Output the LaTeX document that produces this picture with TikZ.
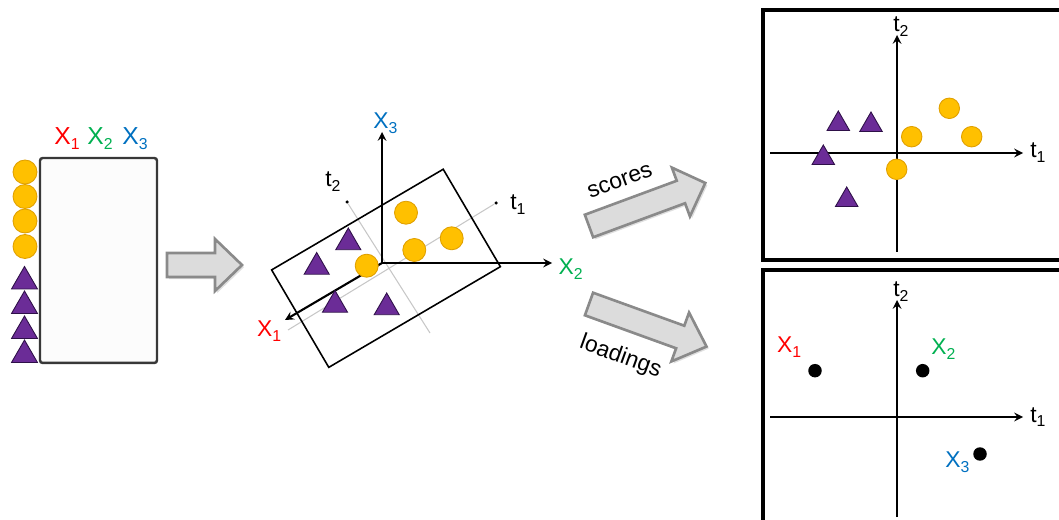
\documentclass[tikz,border=0pt]{standalone}
\usepackage{fontspec}
\setmainfont{Liberation Sans}
\usetikzlibrary{arrows.meta, calc, positioning, shapes.geometric, shadows}

\definecolor{varone}{HTML}{FF0000}
\definecolor{vartwo}{HTML}{00B050}
\definecolor{varthree}{HTML}{0070C0}
\definecolor{ballfill}{HTML}{FFC000}
\definecolor{balledge}{HTML}{E0A000}
\definecolor{trifill}{HTML}{6B2C97}
\definecolor{triedge}{HTML}{2E1048}
\definecolor{arrowfill}{HTML}{DCDCDC}
\definecolor{arrowedge}{HTML}{8A8A8A}

\newcommand{\lowsub}[1]{\raisebox{-2.7pt}{\fontsize{9}{10}\selectfont #1}}

\tikzset{
  ball/.style={circle, fill=ballfill, draw=balledge, line width=0.5pt, inner sep=0pt, minimum size=0.46cm},
  tri/.style={regular polygon, regular polygon sides=3, fill=trifill, draw=triedge, line width=0.5pt, inner sep=0pt, minimum size=0.58cm},
  loaddot/.style={circle, fill=black, inner sep=0pt, minimum size=0.27cm},
  enddot/.style={circle, fill=black, inner sep=0pt, minimum size=0.07cm},
  axis/.style={->, >=stealth, very thick},
  guide/.style={draw=black!22, line width=0.6pt},
  fatarrow/.style={fill=arrowfill, draw=arrowedge, line width=1.5pt, drop shadow={shadow xshift=1.2pt, shadow yshift=-1.2pt, opacity=0.25}},
  panel/.style={line width=2.2pt},
  lab/.style={inner sep=0pt, anchor=base west},
}

\begin{document}
\begin{tikzpicture}[x=0.02cm, y=-0.02cm, font=\fontsize{13}{15}\selectfont]
\useasboundingbox (0,0) rectangle (1059,520);

% data table
\node[draw=black!78, line width=1.4pt, rounded corners=1.5pt, fill=black!1, minimum width=2.34cm, minimum height=4.1cm] (table) at (98.5,260.5) {};
\node[lab, text=varone, font=\fontsize{14}{16}\selectfont] (tx1) at (54,145) {X\lowsub{1}};
\node[lab, text=vartwo, font=\fontsize{14}{16}\selectfont] (tx2) at (87,145) {X\lowsub{2}};
\node[lab, text=varthree, font=\fontsize{14}{16}\selectfont] (tx3) at (122,145) {X\lowsub{3}};

\node[ball, minimum size=0.48cm] (lb1) at (25,172) {};
\node[ball, minimum size=0.48cm] (lb2) at (25,196.5) {};
\node[ball, minimum size=0.48cm] (lb3) at (25,221) {};
\node[ball, minimum size=0.48cm] (lb4) at (25,246.5) {};
\node[tri, minimum size=0.6cm] (lt1) at (24.5,281.5) {};
\node[tri, minimum size=0.6cm] (lt2) at (24.5,306) {};
\node[tri, minimum size=0.6cm] (lt3) at (24.5,331) {};
\node[tri, minimum size=0.6cm] (lt4) at (24.5,355) {};

\draw[fatarrow] (167,253) -- (215,253) -- (215,239) -- (242,265) -- (215,291) -- (215,277) -- (167,277) -- cycle;

% 3d space
\coordinate (orig) at (382,263);
\coordinate (x1end) at (285,320);
\coordinate (x2end) at (552,263);
\coordinate (x3end) at (382,132);
\coordinate (t1start) at (288,330);
\coordinate (t2start) at (430,333);
\node[enddot] (t1end) at (496,203) {};
\node[enddot] (t2end) at (347,202) {};

\draw[guide] (t1start) -- (t1end);
\draw[guide] (t2end) -- (t2start);
\node[draw, line width=0.9pt, rotate=30.4, minimum width=3.98cm, minimum height=2.26cm] (plane) at (386,268.3) {};

\draw[axis] (orig) -- (x1end);
\draw[axis] (orig) -- (x2end);
\draw[axis] (orig) -- (x3end);

\node[lab, text=varone] (mx1) at (256.7,336.7) {X\lowsub{1}};
\node[lab, text=vartwo] (mx2) at (558.3,275) {X\lowsub{2}};
\node[lab, text=varthree] (mx3) at (373,129) {X\lowsub{3}};
\node[lab] (mt1) at (510,210) {t\lowsub{1}};
\node[lab] (mt2) at (325,186.7) {t\lowsub{2}};

\node[ball] (mb1) at (406,212.7) {};
\node[ball] (mb2) at (414.3,250) {};
\node[ball] (mb3) at (451.7,238.3) {};
\node[ball] (mb4) at (366.7,265.7) {};
\node[tri] (mt1tri) at (348.3,242.5) {};
\node[tri] (mt2tri) at (316.7,267) {};
\node[tri] (mt3tri) at (335,305) {};
\node[tri] (mt4tri) at (386.7,307.5) {};

% scores / loadings arrows
\begin{scope}[shift={(589,226)}, rotate=20.3]
  \draw[fatarrow] (0,-12) -- (98,-12) -- (98,-26) -- (124,0) -- (98,26) -- (98,12) -- (0,12) -- cycle;
\end{scope}
\begin{scope}[shift={(589,304)}, rotate=-19.9]
  \draw[fatarrow] (0,-12) -- (97,-12) -- (97,-26) -- (125,0) -- (97,26) -- (97,12) -- (0,12) -- cycle;
\end{scope}
\node[rotate=20] (scores) at (620,181) {scores};
\node[rotate=-20] (loadings) at (620.5,357) {loadings};

% score plot
\draw[panel] (1059,10) -- (763,10) -- (763,260) -- (1059,260);
\coordinate (st1start) at (770,153);
\coordinate (st1end) at (1023,153);
\coordinate (st2start) at (897,252);
\coordinate (st2end) at (897,35);
\draw[axis] (st1start) -- (st1end);
\draw[axis] (st2start) -- (st2end);
\node[lab] (st1) at (1030,158) {t\lowsub{1}};
\node[lab] (st2) at (893,32) {t\lowsub{2}};

\node[ball, minimum size=0.41cm] (sb1) at (949.3,108.3) {};
\node[ball, minimum size=0.41cm] (sb2) at (911.7,136.7) {};
\node[ball, minimum size=0.41cm] (sb3) at (971.7,136.7) {};
\node[ball, minimum size=0.41cm] (sb4) at (896.7,169.3) {};
\node[tri, minimum size=0.52cm] (stri1) at (838.3,124) {};
\node[tri, minimum size=0.52cm] (stri2) at (871,125) {};
\node[tri, minimum size=0.52cm] (stri3) at (823.3,158) {};
\node[tri, minimum size=0.52cm] (stri4) at (846.7,200) {};

% loading plot
\draw[panel] (1059,270) -- (763,270) -- (763,520);
\coordinate (lt1start) at (770,417);
\coordinate (lt1end) at (1023,417);
\coordinate (lt2start) at (897,517);
\coordinate (lt2end) at (897,300);
\draw[axis] (lt1start) -- (lt1end);
\draw[axis] (lt2start) -- (lt2end);
\node[lab] (lt1lab) at (1030,422) {t\lowsub{1}};
\node[lab] (lt2lab) at (893,297) {t\lowsub{2}};

\node[loaddot] (ld1) at (815,370.7) {};
\node[loaddot] (ld2) at (922.7,370.7) {};
\node[loaddot] (ld3) at (980,454) {};
\node[lab, text=varone] (lx1) at (776.7,352.7) {X\lowsub{1}};
\node[lab, text=vartwo] (lx2) at (931,355) {X\lowsub{2}};
\node[lab, text=varthree] (lx3) at (945,467.3) {X\lowsub{3}};

\end{tikzpicture}
\end{document}
